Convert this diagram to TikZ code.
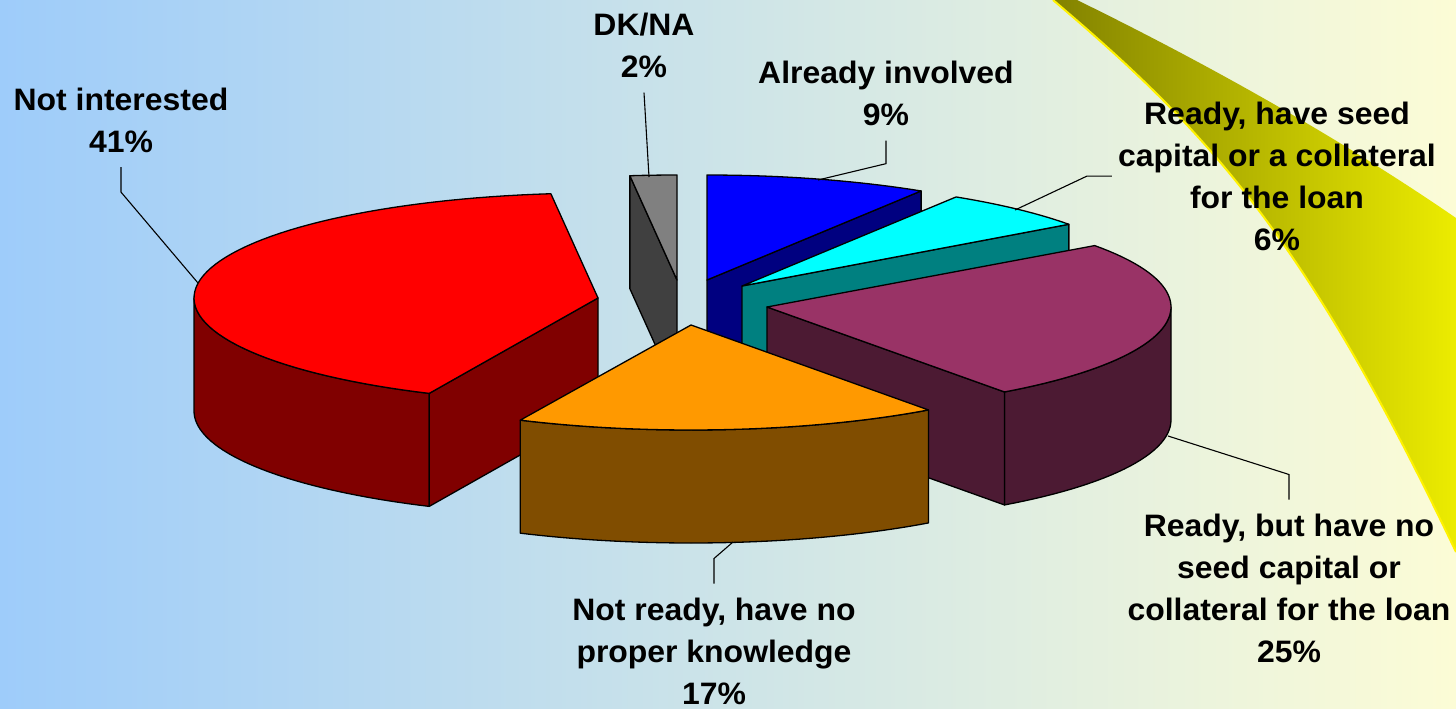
\documentclass[tikz,border=0pt]{standalone}
\usepackage{fontspec}
\setmainfont{Liberation Sans}[FakeStretch=1.03]

\definecolor{bgleft}{RGB}{158,204,250}
\definecolor{bgright}{RGB}{252,252,214}
\definecolor{oliveA}{RGB}{130,130,0}
\definecolor{oliveB}{RGB}{236,236,0}
\definecolor{redtop}{RGB}{255,0,0}
\definecolor{redside}{RGB}{128,0,0}
\definecolor{graytop}{RGB}{128,128,128}
\definecolor{grayside}{RGB}{64,64,64}
\definecolor{bluetop}{RGB}{0,0,255}
\definecolor{blueside}{RGB}{0,0,128}
\definecolor{cyantop}{RGB}{0,255,255}
\definecolor{cyanside}{RGB}{0,128,128}
\definecolor{magtop}{RGB}{153,51,102}
\definecolor{magside}{RGB}{76,26,51}
\definecolor{orgtop}{RGB}{255,153,0}
\definecolor{orgside}{RGB}{128,77,0}

\begin{document}
\begin{tikzpicture}[x=1pt,y=-1pt]
      \tikzstyle{face}=[draw=black,line width=1.3pt,line join=round]
      \tikzstyle{lead}=[draw=black,line width=1.1pt]
      \tikzstyle{lbl}=[inner sep=0pt,anchor=north,align=center,font=\fontsize{31}{42}\selectfont\bfseries]
      \def\rx{404}\def\ry{105}\def\hh{113}
      \useasboundingbox (0,0) rectangle (1456,709);
      % background and swoosh
      \shade[left color=bgleft,right color=bgright] (0,0) rectangle (1456,709);
      \shade[left color=oliveA,right color=oliveB] (1053,0) .. controls (1205,129) and (1304,233) .. (1456,552)
        -- (1456,218) .. controls (1350,145) and (1220,70) .. (1077,0) -- cycle;
      \draw[yellow,line width=2pt] (1053,0) .. controls (1205,129) and (1304,233) .. (1456,552);
      % DK/NA
      \filldraw[face,fill=grayside] ({677+\rx*cos(263.3)},{280+\ry*sin(263.3)}) -- (677,280) -- (677,{280+\hh})
        -- ({677+\rx*cos(263.3)},{280+\hh+\ry*sin(263.3)}) -- cycle;
      \filldraw[face,fill=graytop] (677,280) -- plot[domain=263.3:270,samples=5] ({677+\rx*cos(\x)},{280+\ry*sin(\x)}) -- cycle;
      % already involved
      \filldraw[face,fill=blueside] (707,280) -- ({707+\rx*cos(302)},{280+\ry*sin(302)}) -- ++(0,\hh) -- (707,{280+\hh}) -- cycle;
      \filldraw[face,fill=bluetop] (707,280) -- plot[domain=270:302,samples=20] ({707+\rx*cos(\x)},{280+\ry*sin(\x)}) -- cycle;
      % ready, seed capital
      \filldraw[face,fill=cyanside] (742,286) -- ({742+\rx*cos(324)},{286+\ry*sin(324)}) -- ++(0,\hh) -- (742,{286+\hh}) -- cycle;
      \filldraw[face,fill=cyantop] (742,286) -- plot[domain=302:324,samples=15] ({742+\rx*cos(\x)},{286+\ry*sin(\x)}) -- cycle;
      % ready, no seed capital
      \filldraw[face,fill=magside] plot[domain=0:54,samples=30] ({767+\rx*cos(\x)},{307+\ry*sin(\x)})
        -- plot[domain=54:0,samples=30] ({767+\rx*cos(\x)},{307+\hh+\ry*sin(\x)}) -- cycle;
      \filldraw[face,fill=magside] (767,307) -- ({767+\rx*cos(54)},{307+\ry*sin(54)}) -- ++(0,\hh) -- (767,{307+\hh}) -- cycle;
      \filldraw[face,fill=magtop] (767,307) -- plot[domain=324.2:414,samples=50] ({767+\rx*cos(\x)},{307+\ry*sin(\x)}) -- cycle;
      % not interested
      \filldraw[face,fill=redside] plot[domain=114.7:180,samples=40] ({598+\rx*cos(\x)},{298+\ry*sin(\x)})
        -- plot[domain=180:114.7,samples=40] ({598+\rx*cos(\x)},{298+\hh+\ry*sin(\x)}) -- cycle;
      \filldraw[face,fill=redside] (598,298) -- ({598+\rx*cos(114.7)},{298+\ry*sin(114.7)}) -- ++(0,\hh) -- (598,{298+\hh}) -- cycle;
      \filldraw[face,fill=redtop] (598,298) -- plot[domain=114.7:263.3,samples=70] ({598+\rx*cos(\x)},{298+\ry*sin(\x)}) -- cycle;
      % not ready
      \filldraw[face,fill=orgside] plot[domain=54:115,samples=40] ({691+\rx*cos(\x)},{325+\ry*sin(\x)})
        -- plot[domain=115:54,samples=40] ({691+\rx*cos(\x)},{325+\hh+\ry*sin(\x)}) -- cycle;
      \filldraw[face,fill=orgtop] (691,325) -- plot[domain=54:115,samples=40] ({691+\rx*cos(\x)},{325+\ry*sin(\x)}) -- cycle;
      % labels
      \node[lbl] (notint) at (121,88) {Not interested\\41\%};
      \node[lbl] (dkna) at (644,12.5) {DK/NA\\2\%};
      \node[lbl] (already) at (886,60.5) {Already involved\\9\%};
      \node[lbl] (seed) at (1277,101.5) {Ready, have seed\\capital or a collateral\\for the loan\\6\%};
      \node[lbl] (noseed) at (1289,513.5) {Ready, but have no\\seed capital or\\collateral for the loan\\25\%};
      \node[lbl] (notready) at (714,597.5) {Not ready, have no\\proper knowledge\\17\%};
      \coordinate (rimred) at (198,283);
      \coordinate (rimgray) at (649,177);
      \coordinate (rimblue) at (818,180);
      \coordinate (rimcyan) at (1015,210);
      \coordinate (rimmag) at (1168,436);
      \coordinate (rimorg) at (733,542);
      \draw[lead] ([yshift=-14pt]notint.south) -- ++(0,25) -- (rimred);
      \draw[lead] ([yshift=-15pt]dkna.south) -- (rimgray);
      \draw[lead] ([yshift=-15pt]already.south) -- ++(0,23) -- (rimblue);
      \draw[lead] ([xshift=-6pt]seed.west) -- ++(-25,0) -- (rimcyan);
      \draw[lead] ([yshift=14pt]noseed.north) -- ++(0,-25) -- (rimmag);
      \draw[lead] ([yshift=14pt]notready.north) -- ++(0,-25) -- (rimorg);
\end{tikzpicture}
\end{document}
